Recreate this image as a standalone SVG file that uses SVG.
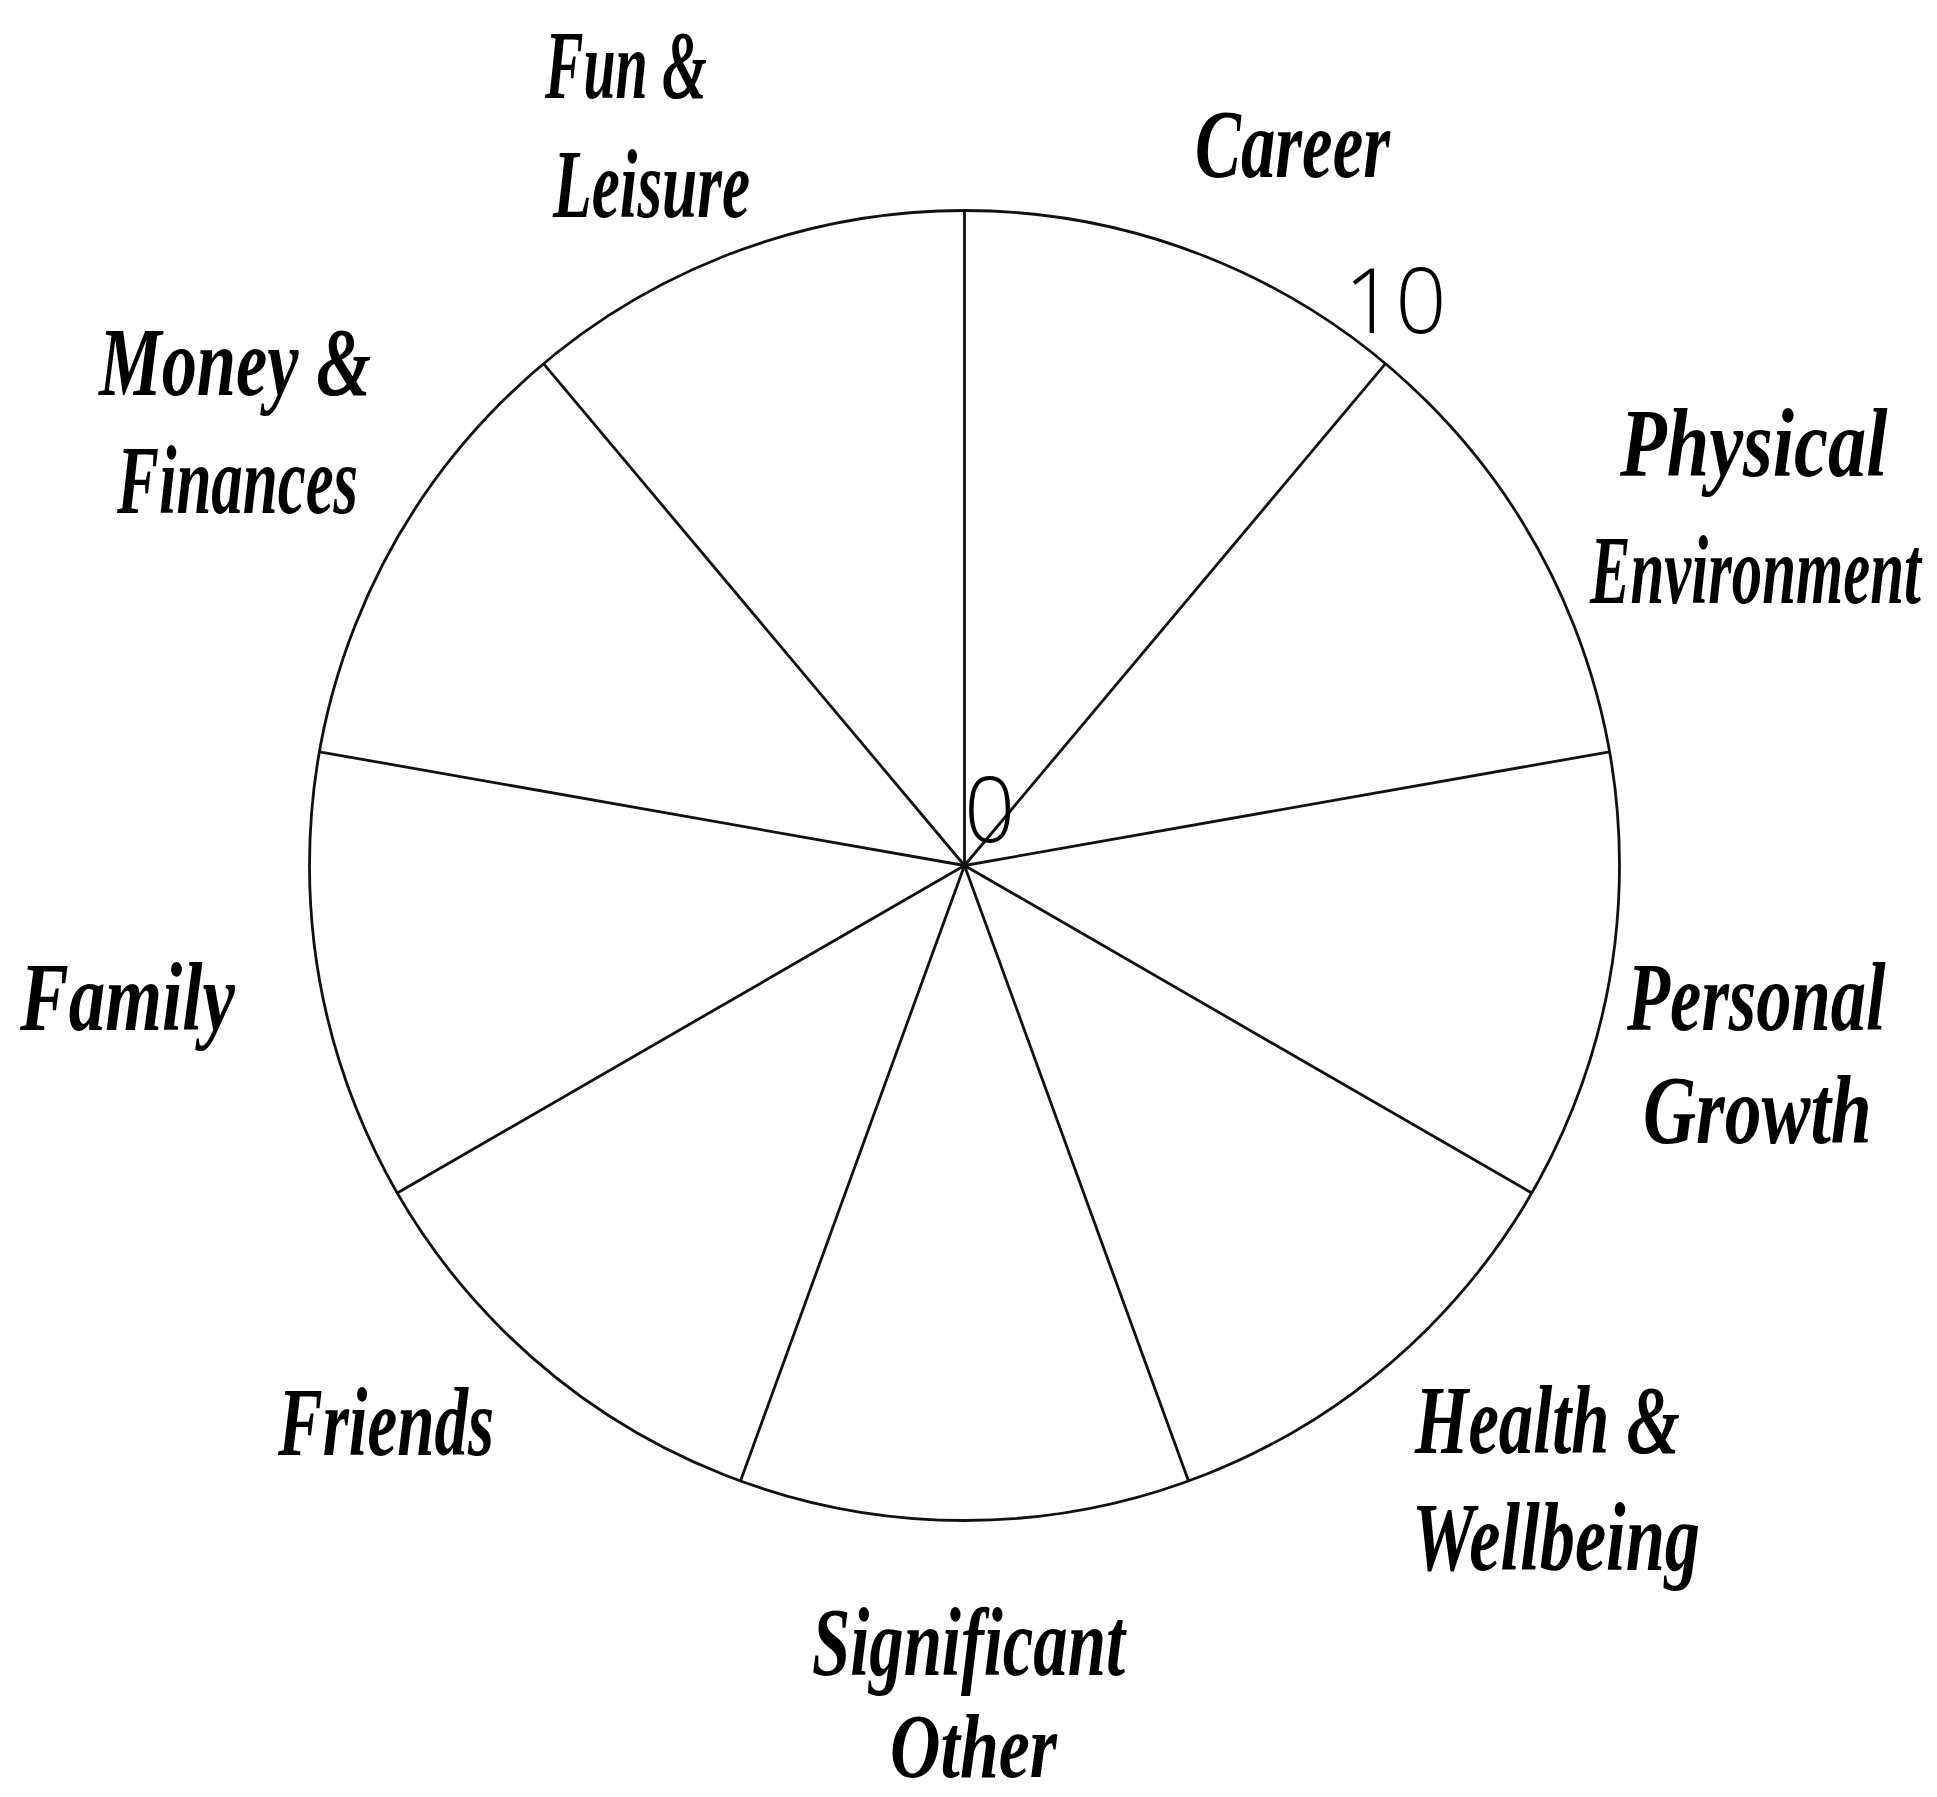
<svg xmlns="http://www.w3.org/2000/svg" width="1937" height="1797" viewBox="0 0 1937 1797">
<style>
.rim{fill:#fff;stroke:#111;stroke-width:2.8}
.spoke{stroke:#111;stroke-width:2.8;fill:none}
.lbl{font-family:"Liberation Serif","DejaVu Serif",serif;font-style:italic;font-weight:bold;font-size:98px;fill:#000}
.num{font-family:"Open Sans","Noto Sans",sans-serif;font-weight:300;font-size:90px;fill:#000}
</style>
<rect width="1937" height="1797" fill="#fff"/>
<g id="wheel">
<circle class="rim" cx="964.5" cy="865.5" r="655"/>
</g>
<g id="connectors">
<line class="spoke" x1="964.5" y1="865.5" x2="964.5" y2="210.5"/>
<line class="spoke" x1="964.5" y1="865.5" x2="1385.5" y2="363.7"/>
<line class="spoke" x1="964.5" y1="865.5" x2="1609.5" y2="751.8"/>
<line class="spoke" x1="964.5" y1="865.5" x2="1531.7" y2="1193"/>
<line class="spoke" x1="964.5" y1="865.5" x2="1188.5" y2="1481"/>
<line class="spoke" x1="964.5" y1="865.5" x2="740.5" y2="1481"/>
<line class="spoke" x1="964.5" y1="865.5" x2="397.3" y2="1193"/>
<line class="spoke" x1="964.5" y1="865.5" x2="319.5" y2="751.8"/>
<line class="spoke" x1="964.5" y1="865.5" x2="543.5" y2="363.7"/>
</g>
<g id="scale">
<text class="num" x="964" y="842">0</text>
<text class="num" x="1344" y="333">10</text>
</g>
<g id="career"><text class="lbl" x="1195" y="177" textLength="195" lengthAdjust="spacingAndGlyphs">Career</text></g>
<g id="physical-environment">
<text class="lbl" transform="translate(1620,476) scale(0.78,1)">Physical</text>
<text class="lbl" transform="translate(1590,603) scale(0.62,1)">Environment</text>
</g>
<g id="personal-growth">
<text class="lbl" transform="translate(1627,1030) scale(0.72,1)">Personal</text>
<text class="lbl" transform="translate(1643,1143) scale(0.75,1)">Growth</text>
</g>
<g id="health-wellbeing">
<text class="lbl" x="1415" y="1453" textLength="265" lengthAdjust="spacingAndGlyphs">Health &amp;</text>
<text class="lbl" x="1412" y="1570" textLength="288" lengthAdjust="spacingAndGlyphs">Wellbeing</text>
</g>
<g id="significant-other">
<text class="lbl" x="812" y="1675" textLength="313" lengthAdjust="spacingAndGlyphs">Significant</text>
<text class="lbl" x="890" y="1777" font-size="90" style="font-size:90px" textLength="167" lengthAdjust="spacingAndGlyphs">Other</text>
</g>
<g id="friends"><text class="lbl" x="278" y="1455" textLength="216" lengthAdjust="spacingAndGlyphs">Friends</text></g>
<g id="family"><text class="lbl" x="20" y="1030" textLength="215" lengthAdjust="spacingAndGlyphs">Family</text></g>
<g id="money-finances">
<text class="lbl" x="99" y="395" textLength="272" lengthAdjust="spacingAndGlyphs">Money &amp;</text>
<text class="lbl" x="117" y="513" textLength="241" lengthAdjust="spacingAndGlyphs">Finances</text>
</g>
<g id="fun-leisure">
<text class="lbl" x="545" y="98" textLength="162" lengthAdjust="spacingAndGlyphs">Fun &amp;</text>
<text class="lbl" x="553" y="217" textLength="197" lengthAdjust="spacingAndGlyphs">Leisure</text>
</g>
</svg>
